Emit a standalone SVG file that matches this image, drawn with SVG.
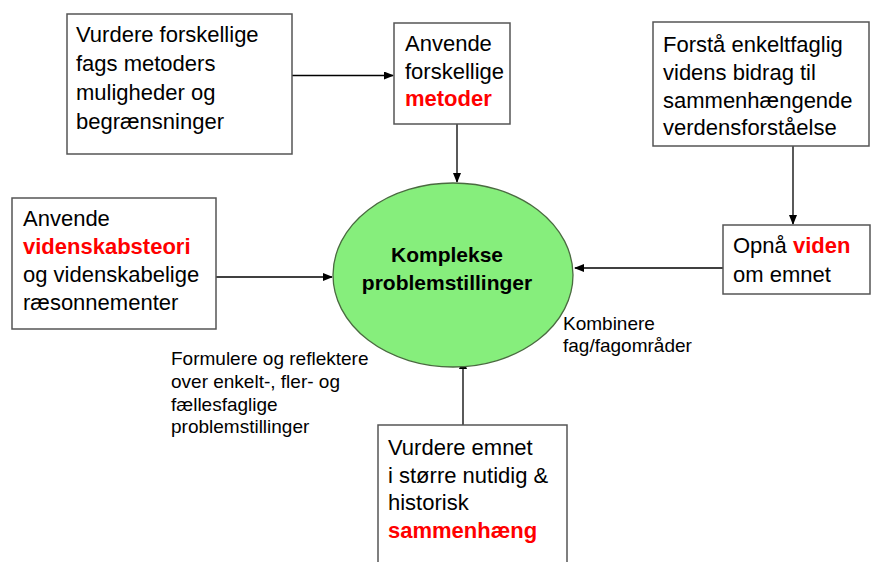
<svg xmlns="http://www.w3.org/2000/svg" width="875" height="562" viewBox="0 0 875 562">
<defs>
<marker id="arr" markerWidth="10" markerHeight="8" refX="9" refY="4" orient="auto" markerUnits="userSpaceOnUse">
<path d="M0,0 L10,4 L0,8 z" fill="#000"/>
</marker>
<style>
.box{fill:#fff;stroke:#555;stroke-width:1.5}
.t{font-family:"Liberation Sans",Arial,sans-serif;font-size:22px;fill:#000}
.r{fill:#ff0000;font-weight:bold}
.lbl{font-family:"Liberation Sans",Arial,sans-serif;font-size:19px;fill:#000}
.c{stroke:#000;stroke-width:1.3;fill:none;marker-end:url(#arr)}
</style>
</defs>
<rect width="875" height="562" fill="#fff"/>
<g id="connectors">
<line class="c" x1="292" y1="75.5" x2="393" y2="75.5"/>
<line class="c" x1="457" y1="124" x2="457" y2="182"/>
<line class="c" x1="793" y1="146" x2="793" y2="224"/>
<line class="c" x1="723" y1="268" x2="575" y2="268"/>
<line class="c" x1="216" y1="277" x2="332" y2="277"/>
<line class="c" x1="463" y1="425" x2="463" y2="360"/>
</g>
<g id="n1">
<rect class="box" x="67" y="14" width="225" height="140"/>
<text class="t" x="76" y="42">Vurdere forskellige</text>
<text class="t" x="76" y="71">fags metoders</text>
<text class="t" x="76" y="100">muligheder og</text>
<text class="t" x="76" y="129">begrænsninger</text>
</g>
<g id="n2">
<rect class="box" x="394" y="23" width="116" height="101"/>
<text class="t" x="405" y="51">Anvende</text>
<text class="t" x="405" y="78.5">forskellige</text>
<text class="t r" x="405" y="106">metoder</text>
</g>
<g id="n3">
<rect class="box" x="653" y="22" width="216" height="124"/>
<text class="t" x="663" y="52">Forstå enkeltfaglig</text>
<text class="t" x="663" y="80">videns bidrag til</text>
<text class="t" x="663" y="107.5">sammenhængende</text>
<text class="t" x="663" y="135">verdensforståelse</text>
</g>
<g id="n4">
<rect class="box" x="12" y="198" width="204" height="131"/>
<text class="t" x="23" y="226">Anvende</text>
<text class="t r" x="23" y="253.5">videnskabsteori</text>
<text class="t" x="23" y="282">og videnskabelige</text>
<text class="t" x="23" y="310">ræsonnementer</text>
</g>
<g id="center">
<ellipse cx="453" cy="275" rx="120" ry="92" fill="#86ee7c" stroke="#4a6a40" stroke-width="1.3"/>
<text x="447" y="262" text-anchor="middle" font-family="Liberation Sans,Arial,sans-serif" font-size="21" font-weight="bold" fill="#000">Komplekse</text>
<text x="447" y="290" text-anchor="middle" font-family="Liberation Sans,Arial,sans-serif" font-size="21" font-weight="bold" fill="#000">problemstillinger</text>
</g>
<g id="n6">
<rect class="box" x="723" y="225" width="147" height="69"/>
<text class="t" x="733" y="253">Opnå <tspan class="r">viden</tspan></text>
<text class="t" x="733" y="282">om emnet</text>
</g>
<g id="n8">
<rect class="box" x="378" y="425" width="189" height="142"/>
<text class="t" x="388" y="455">Vurdere emnet</text>
<text class="t" x="388" y="482.5">i større nutidig &amp;</text>
<text class="t" x="388" y="510">historisk</text>
<text class="t r" x="388" y="538">sammenhæng</text>
</g>
<g id="label-formulere">
<text class="lbl" x="171" y="365">Formulere og reflektere</text>
<text class="lbl" x="171" y="388">over enkelt-, fler- og</text>
<text class="lbl" x="171" y="410.5">fællesfaglige</text>
<text class="lbl" x="171" y="433">problemstillinger</text>
</g>
<g id="label-kombinere">
<text class="lbl" x="563" y="330">Kombinere</text>
<text class="lbl" x="563" y="352">fag/fagområder</text>
</g>
</svg>
